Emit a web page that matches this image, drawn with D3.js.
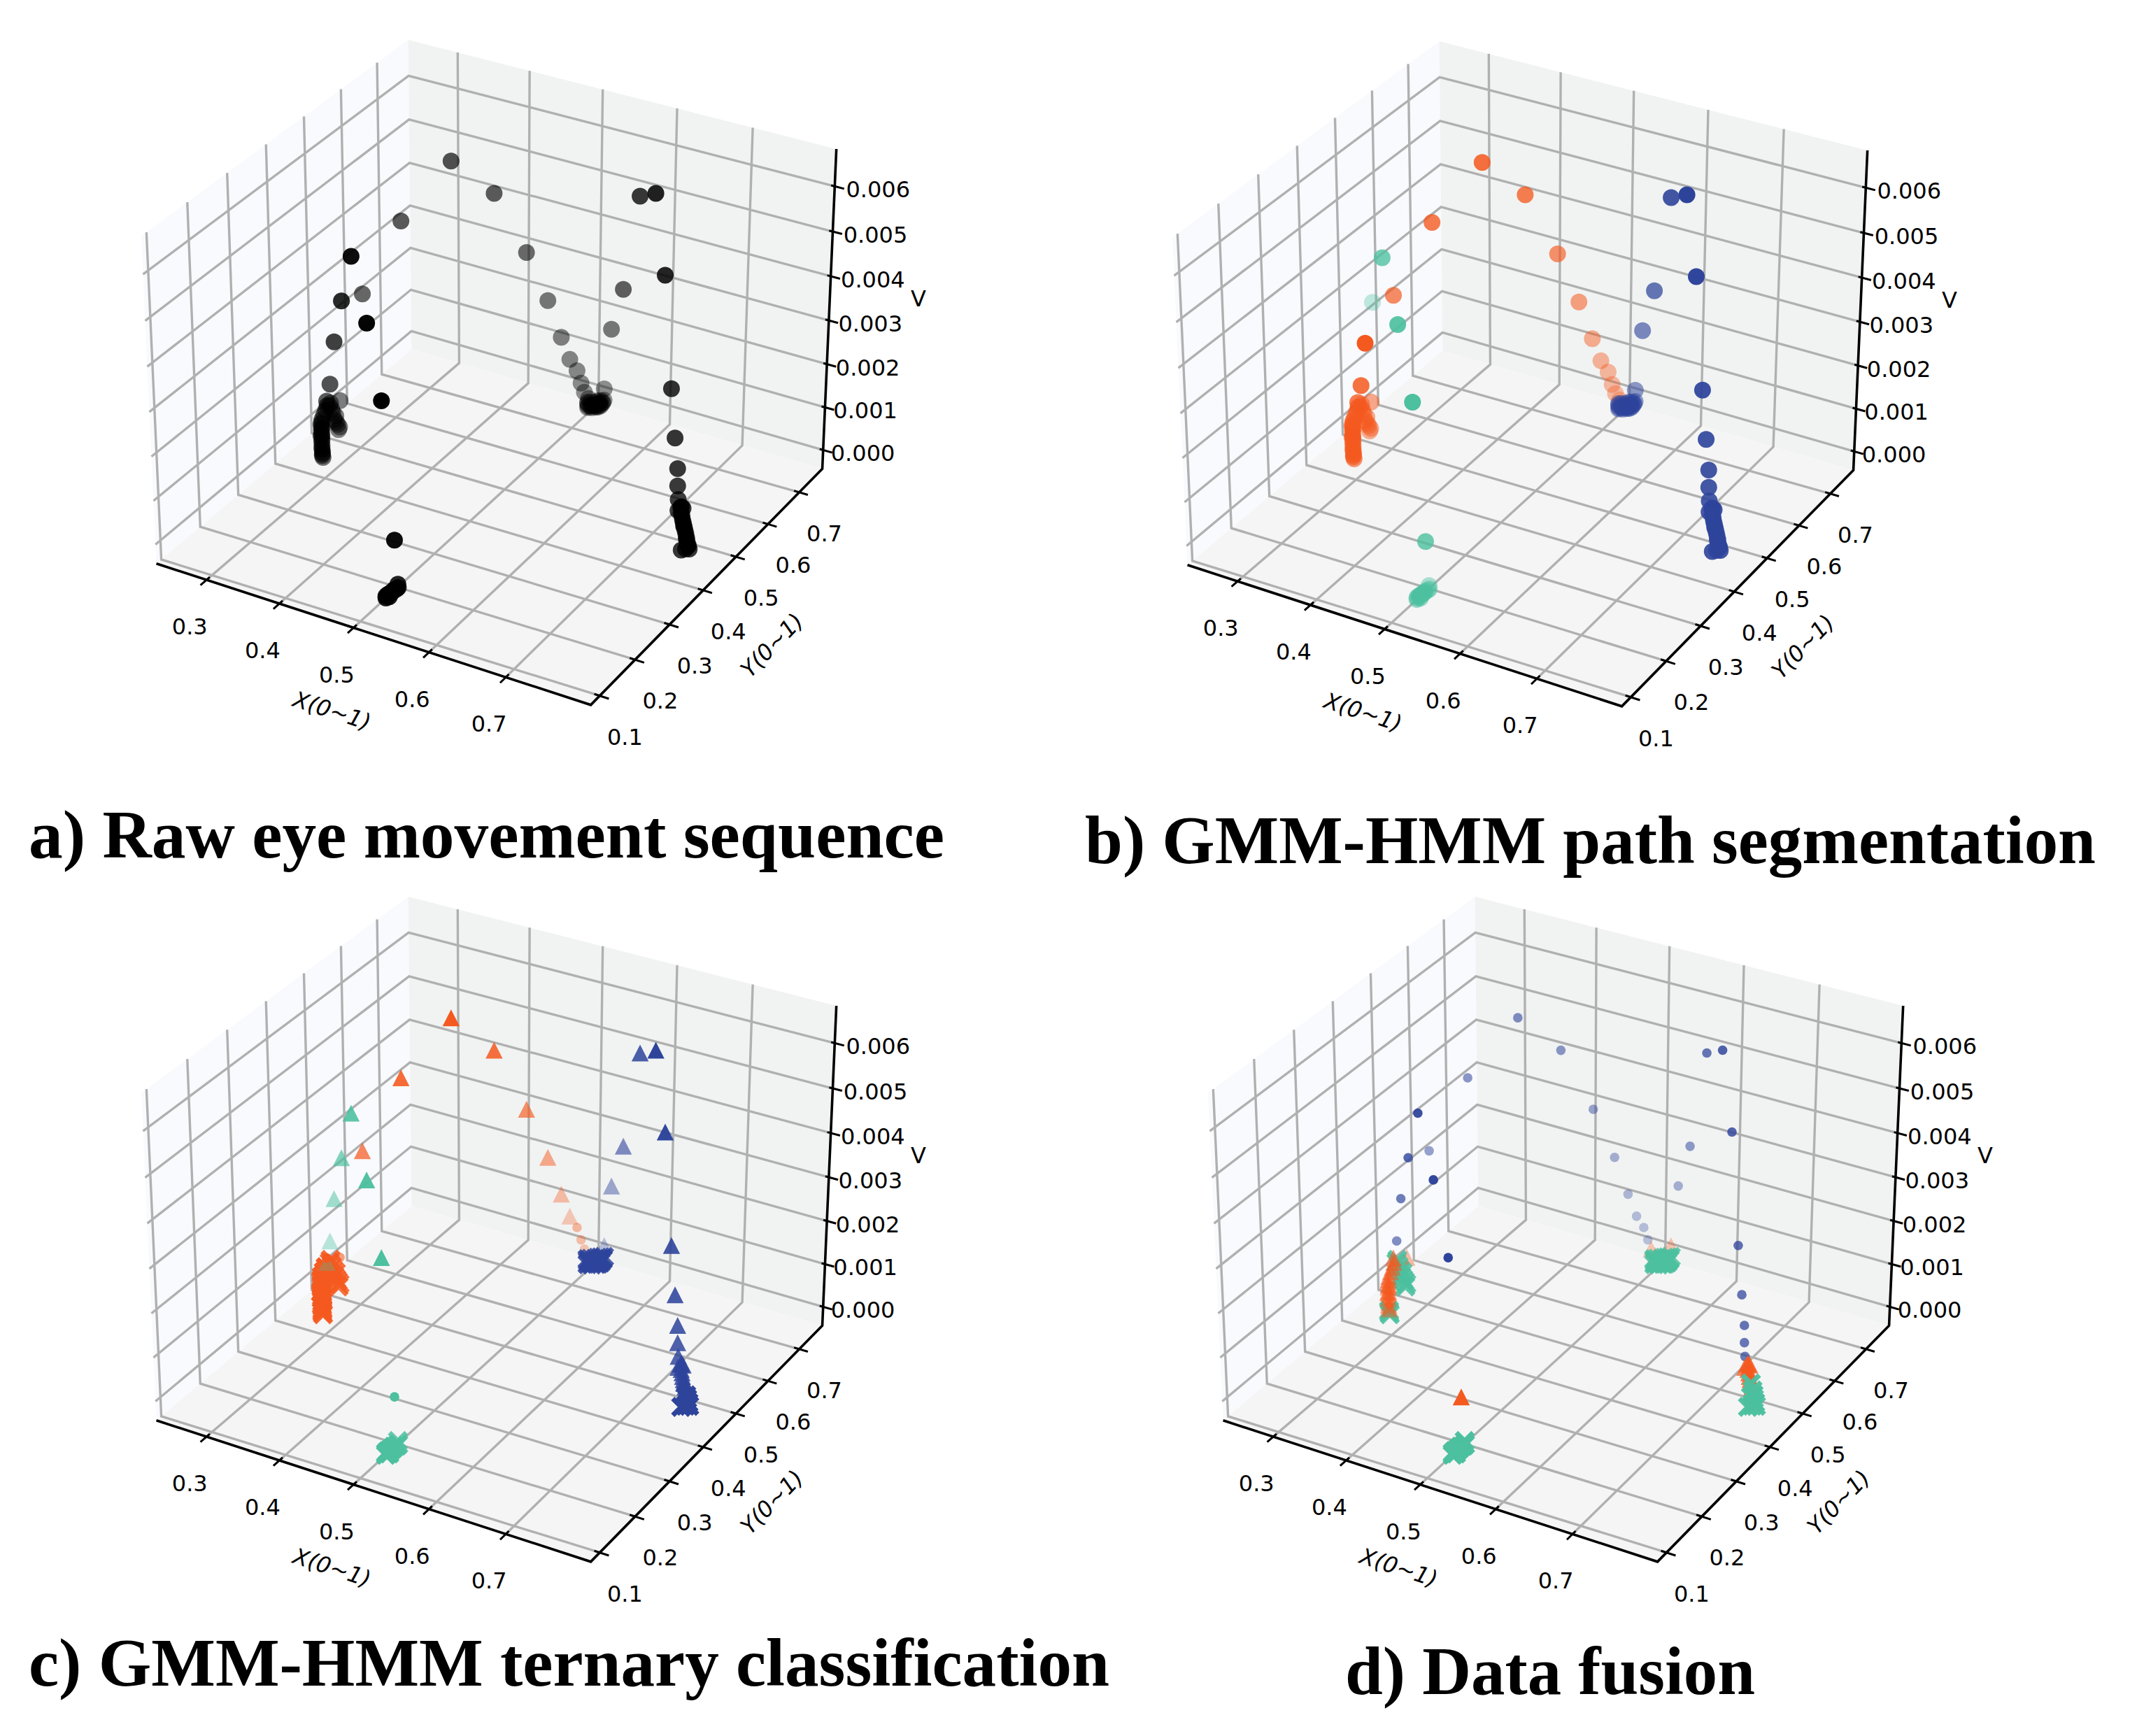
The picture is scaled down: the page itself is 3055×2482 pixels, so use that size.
<!DOCTYPE html>
<html><head><meta charset="utf-8"><style>html,body{margin:0;background:#fff}svg{display:block}</style></head>
<body><script src="https://cdn.jsdelivr.net/npm/d3@7"></script>
<script>
// ---- data: gaze samples (x, y, velocity x 1e-4). Groups:
// G1 back->left arc | G2 back fixation | G3 left column + left->front arc | G4 front fixation | G5 back->right arc | G6, G7 right column
const xs=[.279,.276,.275,.272,.280,.282,.304,.340,.386,.425,.455,.475,.488,.496,.503,.507,.510,.514,
 .278,.274,.277,.281,.273,
 .529,.517,.521,.526,.526,.510,.521,.527,.525,.519,.523,.524,.512,.515,.528,.522,.518,.520,.525,.513,.527,.516,.523,.519,.524,
 .296,.296,.296,.296,.296,.296,.296,.296,.296,.296,
 .298,.298,.295,.295,.293,.294,.294,.297,.304,.310,.316,.316,.328,.346,.374,.409,.455,.498,.533,
 .521,.523,.522,.522,.520,.524,.525,.522,.521,.523,.524,.522,.523,
 .548,.580,.622,.665,.694,.717,.730,.739,.740,.742,.770,.767,
 .748,.753,.757,.762,.767,.772,.750,.758,.766,.771,
 .742,.755,.751,.755,.760,.764,.769,.774];
const ys=[.467,.464,.462,.459,.467,.469,.493,.531,.579,.620,.651,.672,.685,.694,.701,.705,.709,.713,
 .465,.461,.466,.468,.460,
 .728,.712,.720,.723,.731,.719,.708,.715,.737,.716,.718,.727,.715,.710,.720,.733,.725,.712,.713,.722,.728,.706,.724,.730,.716,
 .391,.391,.391,.391,.391,.391,.391,.391,.391,.391,
 .389,.388,.392,.392,.394,.394,.393,.390,.382,.376,.369,.368,.355,.334,.302,.262,.210,.161,.121,
 .125,.116,.132,.139,.154,.147,.121,.128,.120,.136,.143,.124,.131,
 .705,.667,.617,.565,.531,.504,.488,.477,.476,.474,.434,.428,
 .468,.461,.456,.450,.444,.438,.466,.455,.445,.439,
 .474,.459,.463,.458,.452,.448,.441,.436];
const vs=[1.6,2.8,4.5,6.2,0.4,7.2,31.3,47.0,59.4,51.3,37.3,25.8,17.0,11.6,8.8,5.8,3.5,1.9,
 2.2,5.3,3.6,1.0,6.8,
 3.9,0.4,0.4,0.4,0.4,0.4,0.4,0.4,0.4,0.4,0.4,0.4,0.4,0.4,0.4,0.4,0.4,0.4,0.4,0.4,0.4,0.4,0.4,0.4,0.4,
 1.0,3.0,4.3,5.5,6.9,8.3,0.6,2.0,5.1,7.2,
 0.4,1.7,2.3,3.7,4.9,6.2,7.6,9.1,11.1,12.9,14.8,15.9,21.3,33.2,45.8,59.8,51.0,39.6,13.6,
 0.4,0.4,0.4,0.4,0.4,0.4,0.4,0.4,0.4,0.4,0.4,0.4,0.4,
 20.4,33.6,59.6,65.4,51.1,28.9,19.6,13.9,10.1,7.2,0.4,0.4,
 6.2,5.0,4.0,3.0,2.0,0.9,6.6,3.4,1.7,0.7,
 4.7,7.0,5.5,4.5,3.6,2.5,1.4,0.4];
// segment colour in panel b (o orange, t teal, b navy)
const colorB=("oooooooooooooooooo"+"ooooo"+"bbbbbbbbbbbbbbbbbbbbbbbbb"+"oooooooooo"+"oooooooooooooottttt"+"ttttttttttttt"+"bbbbbbbbbbbb"+"bbbbbbbbbb"+"bbbbbbbb").split("");
// colour and marker in panel c (c circle, t triangle, x cross)
const colorC=("oooooooooooooooooo"+"ooooo"+"bbbbbbbbbbbbbbbbbbbbbbbbb"+"oooooooooo"+"oooooooooototttttttt".slice(0,19)+"ttttttttttttt"+"bbbbbbbbbbbb"+"bbbbbbbbbb"+"bbbbbbbb").split("");
const markC=("xxxxxctttttttt"+"cccc"+"xxxxx"+"t"+"xxxxxxxxxxxxxxxxxxxxxxxx"+"xxxxxxxxxx"+"xxxxxxxxxxtcttttttc"+"xxxxxxxxxxxxx"+"tttttttttt"+"xx"+"tttttxttxx"+"ttttttxx").split("");
// marker in panel d; its colour follows the marker
const markD=("xxxxxtcccccccccctt"+"xxxxx"+"t"+"xxxxxxxxxxxxxxxxxxxxxxxx"+"xtttttxttt"+"xtttttttttttcccccct"+"xxxxxxxxxxxxx"+"cccccccccc"+"xx"+"ttttxxttxx"+"ttttxxxx").split("");
const xTicks=[.3,.4,.5,.6,.7], yTicks=[.1,.2,.3,.4,.5,.6,.7], vTicks=[0,.001,.002,.003,.004,.005,.006];
const titles=["a) Raw eye movement sequence","b) GMM-HMM path segmentation","c) GMM-HMM ternary classification","d) Data fusion"];
const xLabel="X(0~1)", yLabel="Y(0~1)", vLabel="V";
const palette={t:"#4cc09f",o:"#f4591f",b:"#2e449b",k:"#000"};
const xLim=[.2302,.8086], yLim=[.075,.7755], vLim=[-.000442,.006816];

// ---- matplotlib-style view: elev 30, azim -60, box aspect 4:4:3
const hx=.5715, hz=.4285;
const X=d3.scaleLinear().domain(xLim).range([-hx,hx]);
const Y=d3.scaleLinear().domain(yLim).range([-hx,hx]);
const Z=d3.scaleLinear().domain(vLim).range([-hz,hz]);
const U=[.866025,.5,0],V=[-.25,.433013,.866025],W=[.433013,-.75,.5];
const dot=(a,b)=>a[0]*b[0]+a[1]*b[1]+a[2]*b[2];
const depth=(x,y,v)=>10-dot([X(x),Y(y),Z(v)],W);
const project=(x,y,v)=>{const q=[X(x),Y(y),Z(v)],d=10-dot(q,W);return [708+6226*dot(q,U)/d,510.4-6231*dot(q,V)/d];};
const line=d3.line();

const svg=d3.select("body").append("svg").attr("width",3055).attr("height",2482).attr("viewBox","0 0 3055 2482");
const panels=[{dx:0,dy:0,kind:"a"},{dx:1474,dy:2,kind:"b"},{dx:0,dy:1225,kind:"c"},{dx:1525,dy:1225,kind:"d"}];
const titlePos=[[41,1226,1309],[1551,1234,1445],[41,2410,1545],[1923,2422,586]];
const n=xs.length, idx=d3.range(n);
const [x0,x1]=xLim,[y0,y1]=yLim,[v0,v1]=vLim;
const wallShift=.0125;

function pointStyle(kind,i){
  if(kind==="a") return {key:"k",color:palette.k,mark:"C"};
  if(kind==="b") return {key:colorB[i],color:palette[colorB[i]],mark:"C"};
  if(kind==="c"){const m=markC[i];return {key:colorC[i]+m,color:palette[colorC[i]],mark:m};}
  const m=markD[i];const c=m==="c"?"b":m==="t"?"o":"t";return {key:m,color:palette[c],mark:m};
}
const fadeOf=(kind,key)=>kind==="a"?.6:kind==="b"?(key==="b"?.5:.65):.7;

panels.forEach((p,pi)=>{
  const g=svg.append("g").attr("transform",`translate(${p.dx},${p.dy})`);
  const path=(pts,stroke,w)=>g.append("path").attr("d",line(pts)).attr("fill","none").attr("stroke",stroke).attr("stroke-width",w);
  const poly=(pts,fill)=>g.append("path").attr("d",line(pts)+"Z").attr("fill",fill);
  poly([project(x0,y0,v0),project(x0,y1,v0),project(x0,y1,v1),project(x0,y0,v1)],"#f9fafd");
  poly([project(x0,y1,v0),project(x1,y1,v0),project(x1,y1,v1),project(x0,y1,v1)],"#f1f3f2");
  poly([project(x0,y0,v0),project(x1,y0,v0),project(x1,y1,v0),project(x0,y1,v0)],"#f5f5f5");
  const grid="#b0b0b0", gw=3.4;
  xTicks.forEach(t=>{path([project(t,y0,v0),project(t,y1,v0),project(t,y1,v1)],grid,gw);});
  yTicks.forEach(t=>{path([project(x1,t,v0),project(x0,t-wallShift,v0),project(x0,t-wallShift,v1)],grid,gw);});
  vTicks.forEach(t=>{path([project(x0,y0,t),project(x0,y1,t),project(x1,y1,t)],grid,gw);});
  // axis lines
  path([project(x0,y0,v0),project(x1,y0,v0),project(x1,y1,v0),project(x1,y1,v1)],"#000",3.6).attr("stroke-linejoin","miter");
  const fx=x1-x0, fy=y1-y0;
  const label=(txt,px,py,anchor)=>g.append("text").attr("x",px).attr("y",py).attr("text-anchor",anchor).attr("font-family","DejaVu Sans").attr("font-size",32).attr("fill","#000").text(txt);
  xTicks.forEach(t=>{path([project(t,y0-.022*fy,v0),project(t,y0+.012*fy,v0)],"#000",3);
    const q=project(t,y0,v0);label(t.toFixed(1),q[0]-24,q[1]+78,"middle");});
  yTicks.forEach(t=>{path([project(x1+.02*fx,t,v0),project(x1-.012*fx,t,v0)],"#000",3);
    const q=project(x1,t,v0);label(t.toFixed(1),q[0]+36,q[1]+70,"middle");});
  vTicks.forEach((t,k)=>{path([project(x1+.021*fx,y1,t),project(x1-.008*fx,y1,t)],"#000",3);
    const q=project(x1,y1,t);label(t.toFixed(3),q[0]+11+k*.85,q[1]+16,"start");});
  // axis titles
  const rot=(txt,px,py,a)=>g.append("text").attr("transform",`translate(${px},${py}) rotate(${a})`).attr("text-anchor","middle").attr("dominant-baseline","middle")
     .attr("font-family","DejaVu Sans").attr("font-style","italic").attr("font-size",32).attr("fill","#000").text(txt);
  rot(xLabel,474,1018,18); rot(yLabel,1105,924,-46);
  g.append("text").attr("x",1313).attr("y",429).attr("text-anchor","middle").attr("dominant-baseline","middle").attr("font-family","DejaVu Sans").attr("font-size",32).attr("fill","#000").text(vLabel);

  // marks, with depth shading normalised per series
  const styles=idx.map(i=>pointStyle(p.kind,i));
  const range={};
  idx.forEach(i=>{const k=styles[i].key,d=depth(xs[i],ys[i],vs[i]*1e-4);const r=range[k]||(range[k]=[d,d]);r[0]=Math.min(r[0],d);r[1]=Math.max(r[1],d);});
  const big=p.kind==="a"||p.kind==="b";
  idx.forEach(i=>{
    const s=styles[i], v=vs[i]*1e-4, d=depth(xs[i],ys[i],v), r=range[s.key], q=project(xs[i],ys[i],v);
    const norm=r[1]>r[0]?(d-r[0])/(r[1]-r[0]):0;
    const alpha=1-(s.mark==="x"?.15:fadeOf(p.kind,s.key))*norm;
    if(s.mark==="C"||s.mark==="c"){g.append("circle").attr("cx",q[0]).attr("cy",q[1]).attr("r",big?12:6.8).attr("fill",s.color).attr("fill-opacity",alpha);}
    else if(s.mark==="t"){g.append("path").attr("transform",`translate(${q[0]},${q[1]})`).attr("d","M0,-12L12.2,12L-12.2,12Z").attr("fill",s.color).attr("fill-opacity",alpha);}
    else {g.append("path").attr("transform",`translate(${q[0]},${q[1]})`).attr("d","M-12,-12L12,12M-12,12L12,-12").attr("stroke",s.color).attr("stroke-width",7).attr("stroke-opacity",alpha).attr("fill","none");}
  });
  svg.append("text").attr("x",titlePos[pi][0]).attr("y",titlePos[pi][1]).attr("font-family","Liberation Serif").attr("font-weight","bold").attr("font-size",98)
     .attr("textLength",titlePos[pi][2]).attr("lengthAdjust","spacingAndGlyphs").attr("fill","#000").text(titles[pi]);
});
</script></body></html>
